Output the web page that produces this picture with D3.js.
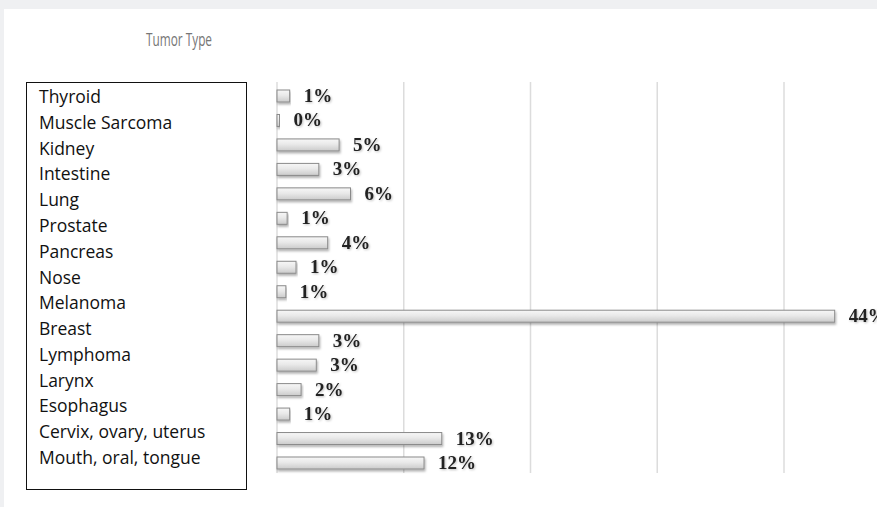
<!DOCTYPE html>
<html>
<head>
<meta charset="utf-8">
<script src="https://cdn.jsdelivr.net/npm/d3@7"></script>
<style>
  html, body { margin: 0; padding: 0; background: #eff0f2; overflow: hidden; }
  svg { display: block; }
</style>
</head>
<body>
<div id="chart"></div>
<script>
// tumor type names, listed in the text box
const tumorTypes = [
  "Thyroid", "Muscle Sarcoma", "Kidney", "Intestine", "Lung", "Prostate",
  "Pancreas", "Nose", "Melanoma", "Breast", "Lymphoma", "Larynx",
  "Esophagus", "Cervix, ovary, uterus", "Mouth, oral, tongue"
];

// bar lengths (percent), top to bottom
const barValues = [1.0, 0.2, 4.9, 3.3, 5.8, 0.8, 4.0, 1.5, 0.7, 44.0, 3.3, 3.1, 1.9, 1.0, 13.0, 11.6];
const barLabels = ["1%", "0%", "5%", "3%", "6%", "1%", "4%", "1%", "1%", "44%", "3%", "3%", "2%", "1%", "13%", "12%"];

const gridTicks = [0, 10, 20, 30, 40];

const width = 877, height = 507;

const svg = d3.select("#chart").append("svg")
  .attr("width", width)
  .attr("height", height)
  .style("overflow", "visible");

// white panel over the grey page
svg.append("rect")
  .attr("x", 4).attr("y", 9)
  .attr("width", width - 4).attr("height", height - 9)
  .attr("fill", "#fff");

const defs = svg.append("defs");
const grad = defs.append("linearGradient")
  .attr("id", "barGrad")
  .attr("x1", 0).attr("y1", 0).attr("x2", 0).attr("y2", 1);
grad.append("stop").attr("offset", "0%").attr("stop-color", "#f7f7f7");
grad.append("stop").attr("offset", "45%").attr("stop-color", "#e9e9e9");
grad.append("stop").attr("offset", "100%").attr("stop-color", "#cbcbcb");

const shadow = defs.append("filter")
  .attr("id", "shadow")
  .attr("x", "-5%").attr("y", "-40%").attr("width", "115%").attr("height", "200%");
shadow.append("feDropShadow")
  .attr("dx", 1).attr("dy", 2)
  .attr("stdDeviation", 1.2)
  .attr("flood-color", "#000")
  .attr("flood-opacity", 0.3);

const textShadow = defs.append("filter")
  .attr("id", "textShadow");
textShadow.append("feDropShadow")
  .attr("dx", 1).attr("dy", 1)
  .attr("stdDeviation", 0.8)
  .attr("flood-color", "#000")
  .attr("flood-opacity", 0.25);

// Scales
const x = d3.scaleLinear()
  .domain([0, 40])
  .range([277, 784]);

const y = d3.scalePoint()
  .domain(d3.range(barValues.length))
  .range([96, 463]);

const yLabel = d3.scalePoint()
  .domain(tumorTypes)
  .range([97, 458]);

const BAR_H = 12;

// title (condensed look)
svg.append("text")
  .attr("x", 146)
  .attr("y", 46)
  .attr("textLength", 66)
  .attr("lengthAdjust", "spacingAndGlyphs")
  .attr("fill", "#767676")
  .attr("font-family", "Open Sans, sans-serif")
  .attr("font-size", 19)
  .text("Tumor Type");

// gridlines
svg.append("g")
  .selectAll("line")
  .data(gridTicks)
  .join("line")
  .attr("x1", d => x(d)).attr("x2", d => x(d))
  .attr("y1", 82).attr("y2", 473)
  .attr("stroke", "#dcdcdc")
  .attr("stroke-width", 1.5);

// bars
svg.append("g")
  .selectAll("rect")
  .data(barValues)
  .join("rect")
  .attr("x", x(0))
  .attr("y", (d, i) => y(i) - BAR_H / 2)
  .attr("width", d => Math.max(1, x(d) - x(0)))
  .attr("height", BAR_H)
  .attr("fill", "url(#barGrad)")
  .attr("stroke", "#8a8a8a")
  .attr("stroke-width", 1)
  .attr("filter", "url(#shadow)");

// value labels
svg.append("g")
  .selectAll("text")
  .data(barValues)
  .join("text")
  .attr("x", d => x(d) + 14)
  .attr("y", (d, i) => y(i) + 6)
  .attr("font-family", "Liberation Serif, Times New Roman, serif")
  .attr("font-weight", "bold")
  .attr("font-size", 19)
  .attr("fill", "#222")
  .attr("filter", "url(#textShadow)")
  .text((d, i) => barLabels[i]);

// category box
svg.append("rect")
  .attr("x", 26.5).attr("y", 82.5)
  .attr("width", 220).attr("height", 407)
  .attr("fill", "#fff")
  .attr("stroke", "#111")
  .attr("stroke-width", 1);

svg.append("g")
  .selectAll("text")
  .data(tumorTypes)
  .join("text")
  .attr("x", 39)
  .attr("y", d => yLabel(d) + 6)
  .attr("font-family", "Open Sans, sans-serif")
  .attr("font-size", 17.5)
  .attr("fill", "#111")
  .text(d => d);
</script>
</body>
</html>
